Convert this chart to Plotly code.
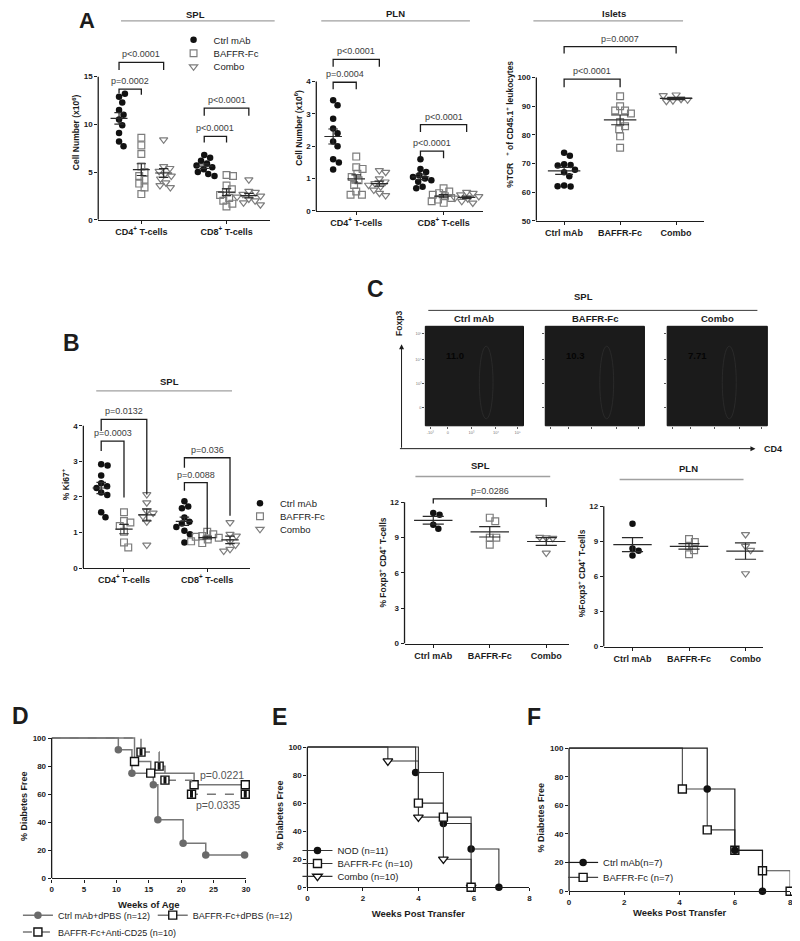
import numpy as np
import plotly.graph_objects as go

# ======================
# DATA
# ======================
groups = ["Ctrl mAb", "BAFFR-Fc", "Combo"]
cell_types = ["CD4<sup>+</sup> T-cells", "CD8<sup>+</sup> T-cells"]

# A - SPL cell number (x10^6)
spl_cd4_ctrl = [12.9, 13.2, 12.3, 11.5, 11.0, 10.5, 9.9, 9.1, 8.2, 7.7]
spl_cd4_baffr = [8.6, 7.8, 6.9, 5.6, 5.0, 4.6, 4.2, 3.8, 3.4, 2.7]
spl_cd4_combo = [8.4, 5.6, 5.4, 5.1, 4.8, 4.6, 4.3, 3.9, 3.6, 3.4]
spl_cd8_ctrl = [6.8, 6.5, 6.2, 5.9, 5.7, 5.5, 5.3, 5.0, 4.8, 4.6]
spl_cd8_baffr = [4.7, 4.6, 3.6, 3.2, 2.9, 2.6, 2.3, 2.0, 1.7, 1.4]
spl_cd8_combo = [4.2, 3.0, 2.9, 2.7, 2.5, 2.4, 2.2, 2.0, 1.8, 1.6]

# A - PLN cell number (x10^6)
pln_cd4_ctrl = [3.42, 3.27, 2.85, 2.55, 2.4, 2.15, 2.0, 1.6, 1.5, 1.28]
pln_cd4_baffr = [1.68, 1.35, 1.3, 1.15, 1.05, 0.95, 0.8, 0.6, 0.5, 0.5]
pln_cd4_combo = [1.25, 1.2, 1.0, 0.9, 0.85, 0.8, 0.75, 0.65, 0.55, 0.48]
pln_cd8_ctrl = [1.6, 1.3, 1.2, 1.1, 1.05, 1.0, 0.95, 0.9, 0.75, 0.7]
pln_cd8_baffr = [0.7, 0.6, 0.55, 0.5, 0.45, 0.4, 0.35, 0.3, 0.25]
pln_cd8_combo = [0.58, 0.55, 0.5, 0.45, 0.4, 0.38, 0.35, 0.3, 0.25]

# A - Islets %TCR+ of CD45.1+ leukocytes
islet_ctrl = [73.8, 72.7, 69.8, 69.5, 69.3, 67.8, 67.0, 65.6, 62.3, 62.0, 62.1]
islet_baffr = [93.5, 90.0, 88.5, 88.5, 87.5, 84.5, 83.0, 82.0, 79.5, 75.5]
islet_combo = [94.0, 92.5, 92.0, 91.8, 92.3, 93.8]

# B - SPL % Ki67+
ki67_cd4_ctrl = [2.92, 2.88, 2.6, 2.38, 2.3, 2.25, 2.12, 2.05, 1.57, 1.43]
ki67_cd4_baffr = [1.57, 1.32, 1.28, 1.18, 1.02, 0.72, 0.58]
ki67_cd4_combo = [2.07, 1.84, 1.6, 1.55, 1.45, 1.3, 0.65]
ki67_cd8_ctrl = [1.88, 1.73, 1.68, 1.42, 1.3, 1.25, 1.15, 1.05, 0.95, 0.72]
ki67_cd8_baffr = [1.02, 0.95, 0.9, 0.88, 0.85, 0.8, 0.75, 0.7]
ki67_cd8_combo = [1.28, 0.95, 0.9, 0.75, 0.65, 0.53, 0.48]

# C - flow gates and % Foxp3+ CD4+ T-cells
flow_pct = ["11.0", "10.3", "7.71"]
flow_xlabels = ["-10³", "0", "10³", "10⁴", "10⁵"]
flow_ylabels = ["0", "10³", "10⁴", "10⁵"]
foxp3_spl_ctrl = [11.1, 10.95, 10.1, 9.75]
foxp3_spl_baffr = [10.7, 10.4, 9.0, 9.0, 8.4]
foxp3_spl_combo = [9.0, 8.95, 9.05, 7.7]
foxp3_pln_ctrl = [10.5, 8.4, 8.2, 7.8]
foxp3_pln_baffr = [9.2, 8.95, 8.6, 8.25, 7.9]
foxp3_pln_combo = [9.6, 8.6, 8.25, 6.25]

# significance brackets: (cluster, group a, group b, top, left leg, right leg, label)
spl_brackets = [(0, 0, 1, 13.7, 13.25, 13.1, "p=0.0002"), (0, 0, 2, 16.5, 15.7, 15.7, "p<0.0001"),
                (1, 0, 1, 8.75, 8.1, 8.1, "p<0.0001"), (1, 0, 2, 11.7, 10.9, 10.9, "p<0.0001")]
pln_brackets = [(0, 0, 1, 3.98, 3.76, 3.76, "p=0.0004"), (0, 0, 2, 4.69, 4.46, 4.46, "p<0.0001"),
                (1, 0, 1, 1.85, 1.63, 1.63, "p<0.0001"), (1, 0, 2, 2.67, 2.44, 2.44, "p<0.0001")]
islet_brackets = [(0, 0, 1, 99.5, 96.6, 96.6, "p<0.0001"), (0, 0, 2, 110.8, 108.4, 108.4, "p=0.0007")]
ki67_brackets = [(0, 0, 1, 3.57, 3.29, 1.98, "p=0.0003"), (0, 0, 2, 4.18, 3.85, 2.07, "p=0.0132"),
                 (1, 0, 1, 2.40, 2.17, 0.95, "p=0.0088"), (1, 0, 2, 3.10, 2.82, 1.47, "p=0.036")]
foxp3_brackets = [(0, 0, 2, 12.3, 11.9, 11.6, "p=0.0286")]

# D/E/F - Kaplan-Meier: event times (weeks) and % diabetes free
d_ctrl_t = [10.3, 12.4, 15.7, 16.4, 20.3, 23.8, 29.8]
d_ctrl_s = [91.7, 75.0, 66.7, 41.7, 25.0, 16.7, 16.7]
d_baffr_t = [12.8, 15.3, 22.0, 29.9]
d_baffr_s = [83.3, 75.0, 66.7, 66.7]
d_cd25_t = [13.8, 16.6, 17.5, 21.6, 29.9]
d_cd25_s = [90.0, 80.0, 70.0, 60.0, 60.0]
d_pvals = ["p=0.0221", "p=0.0335"]

e_nod_t = [3.9, 4.9, 5.9, 6.9]
e_nod_s = [81.8, 45.5, 27.3, 0.0]
e_baffr_t = [4.0, 4.9, 5.9]
e_baffr_s = [60.0, 50.0, 0.0]
e_combo_t = [2.9, 4.0, 4.9, 5.9]
e_combo_s = [90.0, 50.0, 20.0, 0.0]

f_ctrl_t = [5.0, 6.0, 7.0]
f_ctrl_s = [71.4, 28.6, 0.0]
f_baffr_t = [4.1, 5.0, 6.0, 7.0, 8.0]
f_baffr_s = [71.4, 42.9, 28.6, 14.3, 0.0]

# ======================
# HELPERS
# ======================
W, H = 800, 941
OFF = 8          # the page body margin shifts the figure by 8 px
FONT = "Liberation Sans"
INK = "#1c1c1c"
PGRAY = "#3c3c3c"

fig = go.Figure()
shapes, annos, lay = [], [], {}


def ax_names(n):
    s = "" if n == 1 else str(n)
    return "x" + s, "y" + s, "xaxis" + s, "yaxis" + s


def px(x):
    return (x - OFF) / W


def py(y):
    return 1 - (y - OFF) / H


def xdom(l, r):
    return [px(l), px(r)]


def ydom(t, b):
    return [py(b), py(t)]


def text(x, y, s, size=9.5, bold=False, color=INK, xanchor="center", yanchor="middle", **kw):
    annos.append(dict(x=px(x), y=py(y), xref="paper", yref="paper", text=s, showarrow=False,
                      xanchor=xanchor, yanchor=yanchor,
                      font=dict(family=FONT, size=size, color=color, weight="bold" if bold else "normal"), **kw))


def pline(x0, y0, x1, y1, color="#a0a0a0", width=1.3):
    shapes.append(dict(type="line", xref="paper", yref="paper", x0=px(x0), x1=px(x1),
                       y0=py(y0), y1=py(y1), line=dict(color=color, width=width)))


def legend_box(key, x, y, size=9.5):
    lay[key] = dict(x=px(x), y=py(y), xanchor="left", yanchor="middle", bgcolor="rgba(0,0,0,0)",
                    font=dict(family=FONT, size=size, color=INK), itemwidth=30, tracegroupgap=0)


def swarm(vals, ppu_y, d=6.6):
    # simple beeswarm: smallest horizontal shift that avoids overlap (pixels)
    placed, out = [], []
    for v in vals:
        y = v * ppu_y
        cands = [0.0]
        for qx, qy in placed:
            dy = y - qy
            if abs(dy) < d:
                dx = (d * d - dy * dy) ** 0.5
                cands += [qx + dx, qx - dx]
        cands.sort(key=lambda c: (round(abs(c), 3), -c))
        for c in cands:
            if all((c - qx) ** 2 + (y - qy) ** 2 >= d * d - 1e-6 for qx, qy in placed):
                break
        placed.append((c, y))
        out.append(c)
    return out


MARKERS = [
    dict(symbol="circle", color="#111111", size=6.5, line=dict(width=0)),
    dict(symbol="square-open", color="#7d7d7d", size=6.8, line=dict(width=1.2)),
    dict(symbol="triangle-down-open", color="#7d7d7d", size=7.2, line=dict(width=1.2)),
]


def dot_panel(cfg, series, tickpos, ticktext, brackets, legends=None):
    xn, yn, xk, yk = ax_names(cfg["n"])
    sp = cfg["sp"]
    gap = cfg.get("gap", 0)
    ppu_y = (cfg["y0"] - cfg["yt"]) / (cfg["vtop"] - cfg["vmin"])
    xr0 = 1 - (cfg["c1"] - cfg["xl"]) / sp
    xr1 = 1 + (cfg["xr"] - cfg["c1"]) / sp
    ymax = cfg["vmin"] + (cfg["y0"] - cfg["top"]) / ppu_y
    lay[xk] = dict(domain=xdom(cfg["xl"], cfg["xr"]), range=[xr0, xr1], anchor=yn, showline=True,
                   linecolor=INK, linewidth=1.3, ticks="outside", ticklen=3, tickwidth=1.2, tickcolor=INK,
                   tickmode="array", tickvals=tickpos, ticktext=ticktext,
                   tickfont=dict(family=FONT, size=9, weight="bold", color=INK),
                   showgrid=False, zeroline=False, fixedrange=True)
    lay[yk] = dict(domain=ydom(cfg["top"], cfg["y0"]), range=[cfg["vmin"], ymax], anchor=xn,
                   showline=False, ticks="outside", ticklen=3, tickwidth=1.2, tickcolor=INK,
                   tickmode="array", tickvals=cfg["yticks"],
                   tickfont=dict(family=FONT, size=8, weight="bold", color=INK),
                   showgrid=False, zeroline=False, fixedrange=True,
                   title=dict(text=cfg["title"], standoff=cfg.get("standoff", 2),
                              font=dict(family=FONT, size=8.5, weight="bold", color=INK)))
    shapes.append(dict(type="line", xref=xn + " domain", yref=yn, x0=0, x1=0,
                       y0=cfg["vmin"], y1=cfg["vtop"], line=dict(color=INK, width=1.3)))

    wm = cfg["wm"]
    wc = wm * 0.55
    for cl, g, vals in series:
        pos = 1 + g + cl * gap
        offs = swarm(vals, ppu_y)
        show = legends is not None and cl == 0
        fig.add_trace(go.Scatter(
            x=[pos + o / sp for o in offs], y=vals, mode="markers", xaxis=xn, yaxis=yn,
            marker=MARKERS[g], cliponaxis=False, name=groups[g], showlegend=show,
            legend=legends[g] if show else None, hoverinfo="y"))
        m = float(np.mean(vals))
        se = float(np.std(vals, ddof=1) / np.sqrt(len(vals)))
        fig.add_trace(go.Scatter(
            x=[pos - wm, pos + wm, None, pos - wc, pos + wc, None, pos - wc, pos + wc, None, pos, pos],
            y=[m, m, None, m + se, m + se, None, m - se, m - se, None, m - se, m + se],
            mode="lines", xaxis=xn, yaxis=yn, line=dict(color="#2a2a2a", width=1.2),
            showlegend=False, hoverinfo="skip"))

    for cl, ga, gb, top, yl, yr, lab in brackets:
        xa = 1 + ga + cl * gap
        xb = 1 + gb + cl * gap
        fig.add_trace(go.Scatter(x=[xa, xa, xb, xb], y=[yl, top, top, yr], mode="lines",
                                 xaxis=xn, yaxis=yn, line=dict(color=INK, width=1.3),
                                 showlegend=False, hoverinfo="skip"))
        annos.append(dict(x=(xa + xb) / 2, y=top, xref=xn, yref=yn, text=lab, showarrow=False,
                          xanchor="center", yanchor="bottom", yshift=1,
                          font=dict(family=FONT, size=9, color=PGRAY)))


def flow_panel(n, xl, xr, t, b, title, pct, labels):
    xn, yn, xk, yk = ax_names(n)
    common = dict(range=[0, 1], showline=False, ticks="outside", ticklen=2, tickwidth=0.8,
                  tickcolor="#555", showgrid=False, zeroline=False, fixedrange=True,
                  showticklabels=labels, tickfont=dict(family=FONT, size=4, color="#777"),
                  tickmode="array")
    lay[xk] = dict(domain=xdom(xl, xr), anchor=yn, tickvals=[0.05, 0.23, 0.47, 0.72, 0.94],
                   ticktext=flow_xlabels, **common)
    lay[yk] = dict(domain=ydom(t, b), anchor=xn, tickvals=[0.18, 0.42, 0.67, 0.93],
                   ticktext=flow_ylabels, **common)
    # empty trace so the subplot gets created
    fig.add_trace(go.Scatter(x=[None], y=[None], xaxis=xn, yaxis=yn, showlegend=False, hoverinfo="skip"))
    shapes.append(dict(type="rect", xref=xn + " domain", yref=yn + " domain", x0=0, x1=1, y0=0, y1=1,
                       fillcolor="#1b1b1b", line=dict(color="#0e0e0e", width=1), layer="below"))
    shapes.append(dict(type="circle", xref=xn + " domain", yref=yn + " domain", x0=0.55, x1=0.69,
                       y0=0.07, y1=0.80, line=dict(color="#2d2d2d", width=0.8)))
    annos.append(dict(x=0.3, y=0.71, xref=xn + " domain", yref=yn + " domain", text=pct, showarrow=False,
                      xanchor="center", yanchor="middle",
                      font=dict(family=FONT, size=9.5, color="#050505", weight="bold")))
    annos.append(dict(x=0.5, y=1, xref=xn + " domain", yref=yn + " domain", text=title, showarrow=False,
                      xanchor="center", yanchor="bottom", yshift=0,
                      font=dict(family=FONT, size=9.5, color=INK, weight="bold")))


def km_axes(n, xl, xr, y0, yt, top, xmax, xdt, xtitle, standoff):
    xn, yn, xk, yk = ax_names(n)
    ppu = (y0 - yt) / 100.0
    lay[xk] = dict(domain=xdom(xl, xr), range=[0, xmax], anchor=yn, showline=True, linecolor=INK,
                   linewidth=1.3, ticks="outside", ticklen=3, tickwidth=1.2, tickcolor=INK,
                   tick0=0, dtick=xdt, tickfont=dict(family=FONT, size=8, weight="bold", color=INK),
                   ticklabeloverflow="allow",
                   showgrid=False, zeroline=False, fixedrange=True,
                   title=dict(text=xtitle, standoff=standoff,
                              font=dict(family=FONT, size=9.5, weight="bold", color=INK)))
    lay[yk] = dict(domain=ydom(top, y0), range=[0, (y0 - top) / ppu], anchor=xn, showline=False,
                   ticks="outside", ticklen=3, tickwidth=1.2, tickcolor=INK, tickmode="array",
                   tickvals=[0, 20, 40, 60, 80, 100],
                   tickfont=dict(family=FONT, size=8, weight="bold", color=INK),
                   showgrid=False, zeroline=False, fixedrange=True,
                   title=dict(text="% Diabetes Free", standoff=3,
                              font=dict(family=FONT, size=9, weight="bold", color=INK)))
    shapes.append(dict(type="line", xref=xn + " domain", yref=yn, x0=0, x1=0, y0=0, y1=100,
                       line=dict(color=INK, width=1.3)))
    return xn, yn


def km_curve(xn, yn, t, s, name, legend, line, marker):
    # lead-in from 100 % at time 0, then the event steps carrying the markers
    fig.add_trace(go.Scatter(x=[0, t[0]], y=[100, s[0]], mode="lines", line_shape="hv", line=line,
                             xaxis=xn, yaxis=yn, showlegend=False, hoverinfo="skip"))
    fig.add_trace(go.Scatter(x=t, y=s, mode="lines+markers", line_shape="hv", line=line, marker=marker,
                             xaxis=xn, yaxis=yn, name=name, legend=legend, cliponaxis=False))


# ======================
# PANEL A
# ======================
A_SPL = dict(n=1, xl=97, xr=270, c1=118, sp=22.5, gap=3.82, y0=221, yt=77, vmin=0, vtop=15, top=45,
             yticks=[0, 5, 10, 15], title="Cell Number (x10<sup>6</sup>)", wm=0.38)
A_PLN = dict(n=2, xl=317, xr=485, c1=334, sp=23.3, gap=3.78, y0=212, yt=82, vmin=0, vtop=4, top=45,
             yticks=[0, 1, 2, 3, 4], title="Cell Number (x10<sup>6</sup>)", wm=0.38)
A_ISL = dict(n=3, xl=539, xr=708, c1=567, sp=56.5, y0=222, yt=78, vmin=50, vtop=100, top=28,
             yticks=[50, 60, 70, 80, 90, 100],
             title="%TCR   <sup>+</sup> of CD45.1<sup>+</sup> leukocytes", wm=0.29)

dot_panel(A_SPL, [(0, 0, spl_cd4_ctrl), (0, 1, spl_cd4_baffr), (0, 2, spl_cd4_combo),
                  (1, 0, spl_cd8_ctrl), (1, 1, spl_cd8_baffr), (1, 2, spl_cd8_combo)],
          [2, 2 + A_SPL["gap"]], cell_types, spl_brackets, legends=["legend", "legend2", "legend3"])
dot_panel(A_PLN, [(0, 0, pln_cd4_ctrl), (0, 1, pln_cd4_baffr), (0, 2, pln_cd4_combo),
                  (1, 0, pln_cd8_ctrl), (1, 1, pln_cd8_baffr), (1, 2, pln_cd8_combo)],
          [2, 2 + A_PLN["gap"]], cell_types, pln_brackets)
dot_panel(A_ISL, [(0, 0, islet_ctrl), (0, 1, islet_baffr), (0, 2, islet_combo)],
          [1, 2, 3], groups, islet_brackets)

for key, y in zip(["legend", "legend2", "legend3"], [40, 53.5, 67]):
    legend_box(key, 173, y)

text(86, 20.5, "A", size=22, bold=True)
text(195, 15, "SPL", bold=True)
pline(120, 21, 275, 21)
text(397, 14, "PLN", bold=True)
pline(322, 21, 472, 21)
text(617, 14, "Islets", bold=True)
pline(536, 21, 687, 21)

# ======================
# PANEL B
# ======================
B_KI = dict(n=4, xl=82, xr=250, c1=100, sp=23, gap=3.65, y0=571, yt=428, vmin=0, vtop=4, top=403,
            yticks=[0, 1, 2, 3, 4], title="% Ki67<sup>+</sup>", wm=0.38)
dot_panel(B_KI, [(0, 0, ki67_cd4_ctrl), (0, 1, ki67_cd4_baffr), (0, 2, ki67_cd4_combo),
                 (1, 0, ki67_cd8_ctrl), (1, 1, ki67_cd8_baffr), (1, 2, ki67_cd8_combo)],
          [2, 2 + B_KI["gap"]], cell_types, ki67_brackets, legends=["legend4", "legend5", "legend6"])
for key, y in zip(["legend4", "legend5", "legend6"], [506, 519, 532]):
    legend_box(key, 240, y)

text(70, 345, "B", size=23, bold=True)
text(169, 383, "SPL", bold=True)
pline(95, 393, 232, 393)

# ======================
# PANEL C
# ======================
flow_panel(5, 427, 526, 328, 428, groups[0], flow_pct[0], True)
flow_panel(6, 548, 648, 328, 428, groups[1], flow_pct[1], False)
flow_panel(7, 671, 772, 328, 428, groups[2], flow_pct[2], False)

text(377, 290, "C", size=23, bold=True)
text(587, 298, "SPL", bold=True)
pline(430, 312, 762, 312, color="#3a3a3a", width=1)
annos.append(dict(x=px(403), y=py(346), xref="paper", yref="paper", text="", showarrow=True,
                  ax=0, ay=105, arrowhead=2, arrowsize=1, arrowwidth=1, arrowcolor=INK))
annos.append(dict(x=px(760), y=py(451), xref="paper", yref="paper", text="", showarrow=True,
                  ax=-357, ay=0, arrowhead=2, arrowsize=1, arrowwidth=1, arrowcolor=INK))
text(401, 325, "Foxp3", size=8.5, bold=True, textangle=-90)
text(778, 451, "CD4", size=9, bold=True)

C_SPL = dict(n=8, xl=406, xr=572, c1=435, sp=57, y0=647, yt=505, vmin=0, vtop=12, top=484,
             yticks=[0, 3, 6, 9, 12], title="% Foxp3<sup>+</sup> CD4<sup>+</sup> T-cells", wm=0.34)
C_PLN = dict(n=9, xl=607, xr=768, c1=636, sp=57, y0=650, yt=509, vmin=0, vtop=12, top=503,
             yticks=[0, 3, 6, 9, 12], title="%Foxp3<sup>+</sup> CD4<sup>+</sup> T-cells", wm=0.34)
dot_panel(C_SPL, [(0, 0, foxp3_spl_ctrl), (0, 1, foxp3_spl_baffr), (0, 2, foxp3_spl_combo)],
          [1, 2, 3], groups, foxp3_brackets)
dot_panel(C_PLN, [(0, 0, foxp3_pln_ctrl), (0, 1, foxp3_pln_baffr), (0, 2, foxp3_pln_combo)],
          [1, 2, 3], groups, [])

text(483, 468, "SPL", bold=True)
pline(417, 479, 553, 479)
text(692, 471, "PLN", bold=True)
pline(623, 482, 748, 482)

# ======================
# PANELS D / E / F
# ======================
KM_GRAY = dict(color="#777777", width=1.5)
xd, yd = km_axes(10, 50, 246, 883, 742, 738, 30, 5, "Weeks of Age", 8)
km_curve(xd, yd, d_ctrl_t, d_ctrl_s, "Ctrl mAb+dPBS (n=12)", "legend7", KM_GRAY,
         dict(symbol="circle", size=7.5, color="#6a6a6a"))
km_curve(xd, yd, d_baffr_t, d_baffr_s, "BAFFR-Fc+dPBS (n=12)", "legend8", KM_GRAY,
         dict(symbol="square", size=8, color="white", line=dict(color="#111", width=1.4)))
km_curve(xd, yd, d_cd25_t, d_cd25_s, "BAFFR-Fc+Anti-CD25 (n=10)", "legend9",
         dict(color="#777777", width=1.5, dash="dash"),
         dict(symbol="square", size=8, color="white", line=dict(color="#111", width=1.4)))
fig.add_trace(go.Scatter(x=d_cd25_t, y=d_cd25_s, mode="markers", xaxis=xd, yaxis=yd, cliponaxis=False,
                         marker=dict(symbol="line-ns-open", size=5, color="#111",
                                     line=dict(color="#111", width=3)),
                         showlegend=False, hoverinfo="skip"))
legend_box("legend7", 16, 920, size=9)
legend_box("legend8", 152, 920, size=9)
legend_box("legend9", 16, 937, size=9)
text(222, 779, d_pvals[0], size=10.5, color="#555")
text(218, 809, d_pvals[1], size=10.5, color="#555")
text(8, 720, "D", size=23, bold=True, xanchor="left")

xe, ye = km_axes(11, 308, 532, 892, 751, 747, 8, 2, "Weeks Post Transfer", 8)
KM_DARK = dict(color="#333333", width=1.1)
km_curve(xe, ye, e_nod_t, e_nod_s, "NOD (n=11)", "legend10", KM_DARK,
         dict(symbol="circle", size=7.5, color="#111"))
km_curve(xe, ye, e_combo_t, e_combo_s, "Combo (n=10)", "legend12", KM_DARK,
         dict(symbol="triangle-down", size=8.5, color="white", line=dict(color="#111", width=1.3)))
km_curve(xe, ye, e_baffr_t, e_baffr_s, "BAFFR-Fc (n=10)", "legend11", KM_DARK,
         dict(symbol="square", size=8, color="white", line=dict(color="#111", width=1.4)))
legend_box("legend10", 298, 855)
legend_box("legend11", 298, 868)
legend_box("legend12", 298, 881)
text(280, 721, "E", size=23, bold=True)

xf, yf = km_axes(12, 572, 795, 896, 752, 748, 8, 2, "Weeks Post Transfer", 1)
km_curve(xf, yf, f_baffr_t, f_baffr_s, "BAFFR-Fc (n=7)", "legend14", dict(color="#444444", width=1.1),
         dict(symbol="square", size=8, color="white", line=dict(color="#111", width=1.4)))
km_curve(xf, yf, f_ctrl_t, f_ctrl_s, "Ctrl mAb(n=7)", "legend13", dict(color="#1a1a1a", width=1.2),
         dict(symbol="circle", size=7.5, color="#111"))
legend_box("legend13", 566, 867)
legend_box("legend14", 566, 882)
text(537, 721, "F", size=23, bold=True)

# ======================
# LAYOUT
# ======================
fig.update_layout(
    width=W, height=H, margin=dict(l=0, r=0, t=0, b=0),
    paper_bgcolor="white", plot_bgcolor="white",
    font=dict(family=FONT, color=INK), showlegend=True,
    shapes=shapes, annotations=annos, **lay
)

fig.write_html("out.html")
